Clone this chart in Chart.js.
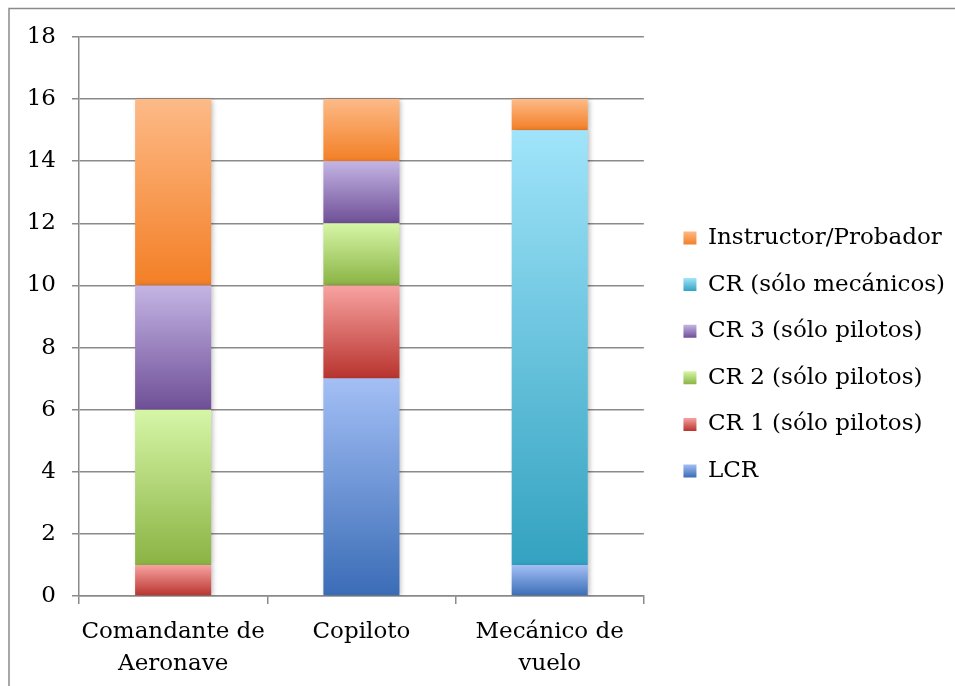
<!DOCTYPE html>
<html>
<head>
<meta charset="utf-8">
<script src="https://cdn.jsdelivr.net/npm/chart.js@4.4.1/dist/chart.umd.min.js"></script>
<style>
  html, body { margin: 0; padding: 0; background: #fff; overflow: hidden; }
  #wrap { position: relative; width: 955px; height: 686px; }
</style>
</head>
<body>
<div id="wrap"><canvas id="chart" width="955" height="686"></canvas></div>
<script>
// ===== DATA =====
const categories = [["Comandante de", "Aeronave"], ["Copiloto"], ["Mecánico de", "vuelo"]];
const seriesNames = [
  "LCR",
  "CR 1 (sólo pilotos)",
  "CR 2 (sólo pilotos)",
  "CR 3 (sólo pilotos)",
  "CR (sólo mecánicos)",
  "Instructor/Probador",
];
const lcr = [0, 7, 1];
const cr1 = [1, 3, 0];
const cr2 = [5, 2, 0];
const cr3 = [4, 2, 0];
const crMecanicos = [0, 0, 14];
const instructor = [6, 2, 1];
const yTicks = [0, 2, 4, 6, 8, 10, 12, 14, 16, 18];

// light (top) / dark (bottom) for each series
const shades = [
  ["#a3bff5", "#3a6cb6"],
  ["#f8a3a1", "#b8332e"],
  ["#d6f6a7", "#8ab343"],
  ["#c4b5e4", "#6f4f97"],
  ["#a0e4fa", "#33a2c0"],
  ["#fdba87", "#f37f26"],
];

const seriesValues = [lcr, cr1, cr2, cr3, crMecanicos, instructor];
const FONT = "'DejaVu Serif', serif";
const FONT_SIZE = 23;
const LEGEND_BOX = 13;
const LEGEND_PAD = 23.6;

function vGradient(ctx, top, bottom, pair) {
  const g = ctx.createLinearGradient(0, top, 0, bottom);
  g.addColorStop(0, pair[0]);
  g.addColorStop(1, pair[1]);
  return g;
}

// each stacked segment gets its own vertical gradient
function segmentFill(c) {
  const pair = shades[c.datasetIndex];
  const { ctx, scales } = c.chart;
  if (c.type !== "data" || !scales.y) return pair[1];
  const i = c.dataIndex;
  let start = 0;
  for (let k = 0; k < c.datasetIndex; k++) start += seriesValues[k][i];
  const end = start + seriesValues[c.datasetIndex][i];
  const top = scales.y.getPixelForValue(end);
  const bottom = scales.y.getPixelForValue(start);
  if (!isFinite(top) || top === bottom) return pair[1];
  return vGradient(ctx, top, bottom, pair);
}

const datasets = seriesValues.map((vals, i) => ({
  label: seriesNames[i],
  data: vals,
  backgroundColor: segmentFill,
  borderWidth: 0,
  barPercentage: 0.404,
  categoryPercentage: 1,
}));

// outer frame
const framePlugin = {
  id: "frame",
  beforeDraw(chart) {
    const ctx = chart.ctx;
    ctx.save();
    ctx.strokeStyle = "#8a8a8a";
    ctx.lineWidth = 1.5;
    ctx.strokeRect(9, 8.5, 2000, 2000);
    ctx.restore();
  },
};

// gradient legend swatches, placed once the legend has its final position
const legendSwatchPlugin = {
  id: "legendSwatch",
  beforeDraw(chart) {
    const lg = chart.legend;
    if (!lg || !lg.columnSizes || !lg.columnSizes.length) return;
    const itemH = Math.max(FONT_SIZE, LEGEND_BOX);
    const colH = lg.columnSizes[0].height;
    const y0 = (lg.top + LEGEND_PAD + lg.bottom - colH) / 2;
    lg.legendItems.forEach((item, k) => {
      const top = y0 + k * (itemH + LEGEND_PAD) + (itemH - LEGEND_BOX) / 2;
      item.fillStyle = vGradient(chart.ctx, top, top + LEGEND_BOX, shades[item.datasetIndex]);
    });
  },
};

// soft shadow behind the bars
const shadowPlugin = {
  id: "barShadow",
  beforeDatasetsDraw(chart) {
    const ctx = chart.ctx;
    ctx.save();
    ctx.shadowColor = "rgba(0,0,0,0.28)";
    ctx.shadowBlur = 5;
    ctx.shadowOffsetX = 2;
    ctx.shadowOffsetY = 1;
  },
  afterDatasetsDraw(chart) {
    chart.ctx.restore();
  },
};

new Chart(document.getElementById("chart"), {
  type: "bar",
  data: { labels: categories, datasets },
  plugins: [framePlugin, legendSwatchPlugin, shadowPlugin],
  options: {
    responsive: false,
    animation: false,
    events: [],
    layout: { padding: { left: 27, top: 37, right: 0, bottom: 14 } },
    plugins: {
      tooltip: { enabled: false },
      legend: {
        position: "right",
        reverse: true,
        maxWidth: 400,
        labels: {
          color: "#000",
          font: { family: FONT, size: FONT_SIZE },
          boxWidth: LEGEND_BOX,
          boxHeight: LEGEND_BOX,
          padding: LEGEND_PAD,
          generateLabels(chart) {
            return chart.data.datasets.map((ds, i) => ({
              text: ds.label,
              fillStyle: shades[i][1],
              strokeStyle: "rgba(0,0,0,0)",
              lineWidth: 0,
              datasetIndex: i,
            }));
          },
        },
      },
    },
    scales: {
      x: {
        stacked: true,
        afterFit(scale) {
          scale.height = 76;
        },
        grid: {
          display: true,
          drawOnChartArea: false,
          offset: true,
          color: "#8a8a8a",
          lineWidth: 1.5,
          tickLength: 8,
        },
        border: { color: "#8a8a8a", width: 1.5 },
        ticks: {
          color: "#000",
          font: { family: FONT, size: FONT_SIZE, lineHeight: 1.35 },
          padding: 13,
          maxRotation: 0,
          autoSkip: false,
        },
      },
      y: {
        stacked: true,
        min: 0,
        max: 18,
        afterBuildTicks(scale) {
          scale.ticks = yTicks.map((v) => ({ value: v }));
        },
        afterFit(scale) {
          scale.width = 52;
        },
        grid: { color: "#8a8a8a", lineWidth: 1.5, tickLength: 7 },
        border: { color: "#8a8a8a", width: 1.5 },
        ticks: {
          color: "#000",
          font: { family: FONT, size: FONT_SIZE },
          padding: 16,
        },
      },
      // empty spacer between plot and legend
      gap: {
        position: "right",
        type: "linear",
        display: true,
        grid: { display: false },
        border: { display: false },
        ticks: { display: false },
        afterFit(scale) {
          scale.width = 16;
        },
      },
    },
  },
});
</script>
</body>
</html>
